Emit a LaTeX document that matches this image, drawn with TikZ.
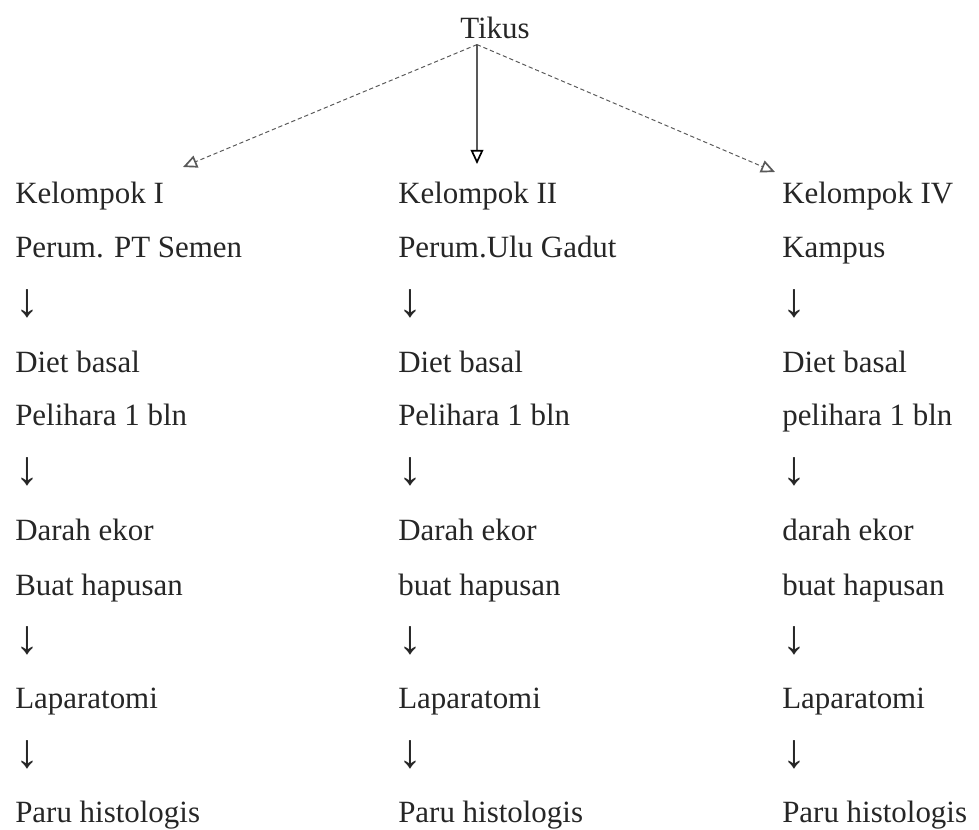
\documentclass[tikz,border=0pt]{standalone}
\usepackage{fontspec}
\setmainfont{Liberation Serif}
\usetikzlibrary{arrows.meta, positioning, calc}

\newcommand{\turun}{{\fontsize{34}{34}\selectfont ↓}}

\begin{document}
\begin{tikzpicture}[
	x=0.025cm, y=-0.025cm,
	every node/.style={font=\fontsize{22}{26}\selectfont, text=black!85, inner sep=0pt, anchor=base west},
	arrow/.style={-{Triangle[open, length=10pt, width=9pt, line width=1.2pt]}, line width=.7pt, black!65, densely dashed},
	]
	\useasboundingbox (0,0) rectangle (979,829);
	
	\node (tikus) at (460,38) {Tikus};
	
	% three columns, one row per line
	\foreach \yy/\ta/\tb/\tc [count=\i from 0] in {
		203/Kelompok I/Kelompok II/Kelompok IV,
		257/Perum. PT Semen/Perum.Ulu Gadut/Kampus,
		316/\turun/\turun/\turun,
		372/Diet basal/Diet basal/Diet basal,
		425/Pelihara 1 bln/Pelihara 1 bln/pelihara 1 bln,
		484/\turun/\turun/\turun,
		540/Darah ekor/Darah ekor/darah ekor,
		595/Buat hapusan/buat hapusan/buat hapusan,
		653/\turun/\turun/\turun,
		708/Laparatomi/Laparatomi/Laparatomi,
		767/\turun/\turun/\turun,
		822/Paru histologis/Paru histologis/Paru histologis}
	{
		\node (left-\i) at (15,\yy) {\ta};
		\node (mid-\i) at (398,\yy) {\tb};
		\node (right-\i) at (782,\yy) {\tc};
	}
	
	\coordinate (apex) at ([xshift=-.45cm, yshift=-.15cm]tikus.south);
	\coordinate (tip-left) at (183,167);
	\coordinate (tip-mid) at (477,164);
	\coordinate (tip-right) at (775,172);
	\draw[arrow] (apex) to (tip-left);
	\draw[arrow, black, solid, line width=.9pt] (apex) to (tip-mid);
	\draw[arrow] (apex) to (tip-right);
\end{tikzpicture}
\end{document}
